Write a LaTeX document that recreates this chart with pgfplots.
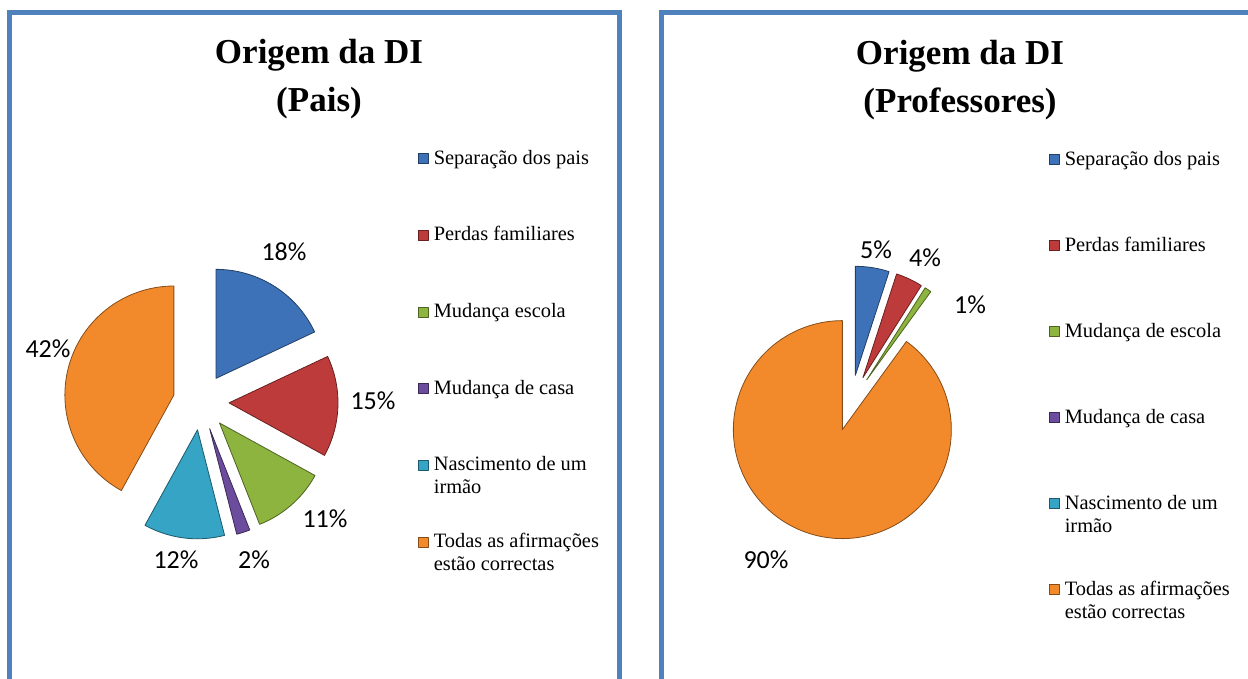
\documentclass[border=0pt]{standalone}
\usepackage{pgfplots}
\pgfplotsset{compat=1.18}
\usepackage{fontspec}
\setmainfont{Liberation Serif}
\newfontfamily\calfont{Carlito}
\definecolor{frameblue}{HTML}{4F81BD}
\definecolor{cblue}{HTML}{3E72B8}
\definecolor{cred}{HTML}{BE3B3B}
\definecolor{cgreen}{HTML}{8DB43F}
\definecolor{cpurple}{HTML}{6C4C9C}
\definecolor{cteal}{HTML}{36A4C4}
\definecolor{corange}{HTML}{F28A2C}

\newcommand\titlefont{\fontsize{17.5pt}{21pt}\selectfont\bfseries}
\newcommand\legfont{\fontsize{10.2pt}{11.5pt}\selectfont}
\newcommand\pctfont{\calfont\fontsize{13pt}{15pt}\selectfont}
\newcommand\LE[1]{\raisebox{0pt}[7pt][0pt]{\begin{tabular}[t]{@{}l@{}}#1\end{tabular}}}

% #1 cumulative percent before slice, #2 slice percent, #3 colour, #4 #5 pie centre, #6 samples
\newcommand\pieslice[6]{%
 \pgfmathsetmacro\aS{90-3.6*(#1)}%
 \pgfmathsetmacro\aE{90-3.6*((#1)+(#2))}%
 \pgfmathsetmacro\aM{(\aS+\aE)/2}%
 \pgfmathsetmacro\px{#4+28*cos(\aM)}%
 \pgfmathsetmacro\py{#5+28*sin(\aM)}%
 \edef\doslice{\noexpand\addplot[fill=#3, draw=#3!55!black, line width=0.4pt, line join=round, domain=\aE:\aS, samples=#6, variable=\noexpand\t] ({\px+109*cos(\noexpand\t)}, {\py+109*sin(\noexpand\t)}) -- (axis cs:\px,\py) -- cycle;}%
 \doslice
}

\pgfplotsset{panel/.style={
  scale only axis, anchor=south west, ticks=none,
  axis line style={draw=frameblue, line width=2.5pt},
  clip=false, ymin=-30, ymax=666, height=348pt,
  legend cell align=left,
  legend style={draw=none, fill=none, inner sep=0pt, outer sep=0pt,
    anchor=north west, font=\legfont,
    nodes={inner sep=0pt, outer sep=0pt},
    /tikz/every odd column/.style={column sep=2.5pt}},
  legend image code/.code={\path[##1] (0pt,-2.5pt) rectangle (5pt,2.5pt);},
}}

\begin{document}
\begin{tikzpicture}
\useasboundingbox (0,0) rectangle (624pt,339.5pt);
% ---------- left panel: Pais ----------
\begin{axis}[panel, at={(5pt,-15pt)}, width=304.5pt, xmin=10, xmax=619,
  legend style={at={(axis description cs:0.670,0.803)}, row sep=29.85pt}]
\pieslice{0}{18}{cblue}{201}{277}{60}
\addlegendentry{\LE{Separação dos pais}}
\pieslice{18}{15}{cred}{201}{277}{60}
\addlegendentry{\LE{Perdas familiares}}
\pieslice{33}{11}{cgreen}{201}{277}{50}
\addlegendentry{\LE{Mudança escola}}
\pieslice{44}{2}{cpurple}{201}{277}{10}
\addlegendentry{\LE{Mudança de casa}}
\pieslice{46}{12}{cteal}{201}{277}{50}
\addlegendentry{\LE{Nascimento de um\\irmão}}
\pieslice{58}{42}{corange}{201}{277}{100}
\addlegendentry{\LE{Todas as afirmações\\estão correctas}}
\node[font=\titlefont, anchor=base] at (axis cs:319,615) {Origem da DI};
\node[font=\titlefont, anchor=base] at (axis cs:319,567) {(Pais)};
\node[font=\pctfont] at (axis cs:284,427) {18\%};
\node[font=\pctfont] at (axis cs:373,278) {15\%};
\node[font=\pctfont] at (axis cs:325,160) {11\%};
\node[font=\pctfont] at (axis cs:254,119) {2\%};
\node[font=\pctfont] at (axis cs:176,119) {12\%};
\node[font=\pctfont] at (axis cs:48,330) {42\%};
\end{axis}
% ---------- right panel: Professores ----------
\begin{axis}[panel, at={(330.75pt,-15pt)}, width=306.75pt, xmin=661.5, xmax=1275,
  legend style={at={(axis description cs:0.6316,0.8017)}, row sep=34.5pt}]
\pieslice{0}{5}{cblue}{851}{276}{30}
\addlegendentry{\LE{Separação dos pais}}
\pieslice{5}{4}{cred}{851}{276}{30}
\addlegendentry{\LE{Perdas familiares}}
\pieslice{9}{1}{cgreen}{851}{276}{10}
\addlegendentry{\LE{Mudança de escola}}
\addlegendimage{fill=cpurple, draw=cpurple!55!black, line width=0.4pt}
\addlegendentry{\LE{Mudança de casa}}
\addlegendimage{fill=cteal, draw=cteal!55!black, line width=0.4pt}
\addlegendentry{\LE{Nascimento de um\\irmão}}
\pieslice{10}{90}{corange}{851}{276}{150}
\addlegendentry{\LE{Todas as afirmações\\estão correctas}}
\node[font=\titlefont, anchor=base] at (axis cs:960,614) {Origem da DI};
\node[font=\titlefont, anchor=base] at (axis cs:960,566) {(Professores)};
\node[font=\pctfont] at (axis cs:876,429) {5\%};
\node[font=\pctfont] at (axis cs:925,421) {4\%};
\node[font=\pctfont] at (axis cs:970,374) {1\%};
\node[font=\pctfont] at (axis cs:766,119) {90\%};
\end{axis}
\end{tikzpicture}
\end{document}
